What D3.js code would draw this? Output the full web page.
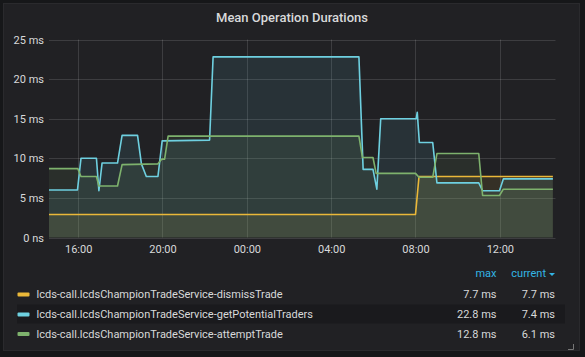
<!DOCTYPE html>
<html><head><meta charset="utf-8">
<script src="https://cdn.jsdelivr.net/npm/d3@7"></script>
<style>
html,body{margin:0;padding:0;background:#161719;}
svg{display:block;font-family:Roboto,"Noto Sans",sans-serif;}
</style></head><body>
<svg id="c" width="585" height="357"></svg>
<script>
// ---- data ----
const title = "Mean Operation Durations";
const seriesNames = [
  "lcds-call.lcdsChampionTradeService-dismissTrade",
  "lcds-call.lcdsChampionTradeService-getPotentialTraders",
  "lcds-call.lcdsChampionTradeService-attemptTrade"
];
const seriesColors = ["#EAB839", "#6ED0E0", "#7EB26D"];
const maxLabels = ["7.7 ms", "22.8 ms", "12.8 ms"];
const currentLabels = ["7.7 ms", "7.4 ms", "6.1 ms"];
const yTicks = [0, 5, 10, 15, 20, 25];
const yTickLabels = ["0 ns", "5 ms", "10 ms", "15 ms", "20 ms", "25 ms"];
const xTicks = ["1 16:00", "1 20:00", "2 00:00", "2 04:00", "2 08:00", "2 12:00"];
const timeRange = ["1 14:37", "2 14:37"];

const dismissTrade = [
  ["1 14:37", 2.9], ["2 08:00", 2.9], ["2 08:10", 7.7], ["2 14:31", 7.7]
];
const getPotentialTraders = [
  ["1 14:37", 6.0], ["1 15:58", 6.0], ["1 16:08", 10.0], ["1 16:52", 10.0],
  ["1 16:59", 5.9], ["1 17:08", 9.4], ["1 17:52", 9.4], ["1 18:05", 12.9],
  ["1 18:49", 12.9], ["1 19:00", 9.3], ["1 19:14", 7.7], ["1 19:47", 7.7],
  ["1 19:59", 12.2], ["1 22:14", 12.3], ["1 22:24", 22.8], ["2 05:19", 22.8],
  ["2 05:31", 8.6], ["2 05:59", 8.6], ["2 06:10", 6.1], ["2 06:21", 15.0],
  ["2 08:02", 15.0], ["2 08:05", 15.8], ["2 08:11", 12.0], ["2 08:49", 12.0],
  ["2 09:01", 6.9], ["2 11:00", 6.9], ["2 11:11", 5.9], ["2 11:59", 5.9],
  ["2 12:10", 7.4], ["2 14:31", 7.4]
];
const attemptTrade = [
  ["1 14:37", 8.7], ["1 15:59", 8.7], ["1 16:08", 7.7], ["1 16:52", 7.7],
  ["1 16:59", 6.5], ["1 17:52", 6.5], ["1 18:05", 9.2], ["1 19:47", 9.3],
  ["1 19:58", 9.9], ["1 20:06", 9.9], ["1 20:16", 12.8], ["2 05:19", 12.8],
  ["2 05:29", 10.1], ["2 05:59", 10.1], ["2 06:08", 8.1], ["2 08:00", 8.1],
  ["2 08:10", 7.6], ["2 08:49", 7.6], ["2 09:01", 10.6], ["2 11:00", 10.6],
  ["2 11:11", 5.3], ["2 11:59", 5.3], ["2 12:10", 6.1], ["2 14:31", 6.1]
];
const allSeries = [dismissTrade, getPotentialTraders, attemptTrade];

// ---- helpers ----
function parseT(s) {
  const [d, hm] = s.split(" ");
  const [h, m] = hm.split(":").map(Number);
  return new Date(2019, 0, Number(d), h, m);
}

const svg = d3.select("#c");
// panel
svg.append("rect").attr("x", 3.5).attr("y", 3.5).attr("width", 576).attr("height", 347)
  .attr("fill", "#212124").attr("stroke", "#2a2a2d").attr("stroke-width", 1);

svg.append("text").attr("x", 292).attr("y", 22).attr("text-anchor", "middle")
  .attr("fill", "#d8d9da").attr("font-size", 13).attr("font-weight", 500).text(title);

const x = d3.scaleTime().domain(timeRange.map(parseT)).range([49, 555]);
const y = d3.scaleLinear().domain([0, 25]).range([237.5, 39.5]);

const grid = svg.append("g");
grid.selectAll("line.h").data(yTicks).join("line")
  .attr("x1", 49).attr("x2", 555.5)
  .attr("y1", d => Math.round(y(d)) + 0.5).attr("y2", d => Math.round(y(d)) + 0.5)
  .attr("stroke", "#ffffff").attr("stroke-opacity", 0.13);
grid.selectAll("line.v").data(xTicks).join("line")
  .attr("x1", d => Math.round(x(parseT(d))) + 0.5).attr("x2", d => Math.round(x(parseT(d))) + 0.5)
  .attr("y1", 39.5).attr("y2", 237.5)
  .attr("stroke", "#ffffff").attr("stroke-opacity", 0.13);

// y axis labels
svg.append("g").selectAll("text").data(yTicks).join("text")
  .attr("x", 44).attr("y", d => y(d) + 4).attr("text-anchor", "end")
  .attr("fill", "#d8d9da").attr("font-size", 11).text((d, i) => yTickLabels[i]);

// x axis labels
const xAxis = d3.axisBottom(x).tickValues(xTicks.map(parseT)).tickFormat(d3.timeFormat("%H:%M")).tickSize(0).tickPadding(8);
const xg = svg.append("g").attr("transform", "translate(0,237.5)").call(xAxis);
xg.select(".domain").remove();
xg.selectAll("text").attr("fill", "#d8d9da").attr("font-size", 11).attr("font-family", "Roboto,'Noto Sans',sans-serif");

// areas + lines
const area = d3.area().x(d => x(parseT(d[0]))).y0(y(0)).y1(d => y(d[1]));
const line = d3.line().x(d => x(parseT(d[0]))).y(d => y(d[1]));
const plot = svg.append("g");
allSeries.forEach((s, i) => {
  plot.append("path").attr("d", area(s)).attr("fill", seriesColors[i]).attr("fill-opacity", 0.1);
});
allSeries.forEach((s, i) => {
  plot.append("path").attr("d", line(s)).attr("fill", "none").attr("stroke", seriesColors[i])
    .attr("stroke-width", 1.6).attr("stroke-linejoin", "round");
});

// legend
const lg = svg.append("g").attr("font-size", 11);
lg.append("text").attr("x", 496.5).attr("y", 277).attr("text-anchor", "end")
  .attr("fill", "#33b5e5").text("max");
lg.append("text").attr("x", 546).attr("y", 277).attr("text-anchor", "end")
  .attr("fill", "#33b5e5").text("current");
lg.append("path").attr("d", "M549,273 L555,273 L552,276 Z").attr("fill", "#33b5e5");
const rowY = [294, 314, 333.5];
lg.append("rect").attr("x", 17).attr("y", 304.5).attr("width", 548).attr("height", 19).attr("fill", "#1a1a1d");
seriesNames.forEach((n, i) => {
  lg.append("rect").attr("x", 17.5).attr("y", rowY[i] - 1.5).attr("width", 12).attr("height", 4)
    .attr("rx", 1).attr("fill", seriesColors[i]);
  lg.append("text").attr("x", 36.5).attr("y", rowY[i] + 4).attr("fill", "#d8d9da").text(n);
  lg.append("text").attr("x", 496.5).attr("y", rowY[i] + 4).attr("text-anchor", "end").attr("fill", "#d8d9da").text(maxLabels[i]);
  lg.append("text").attr("x", 555).attr("y", rowY[i] + 4).attr("text-anchor", "end").attr("fill", "#d8d9da").text(currentLabels[i]);
});
// resize handle
svg.append("path").attr("d", "M573.5,344 L573.5,349.5 L568,349.5").attr("fill", "none").attr("stroke", "#777").attr("stroke-width", 1);
</script>
</body></html>
